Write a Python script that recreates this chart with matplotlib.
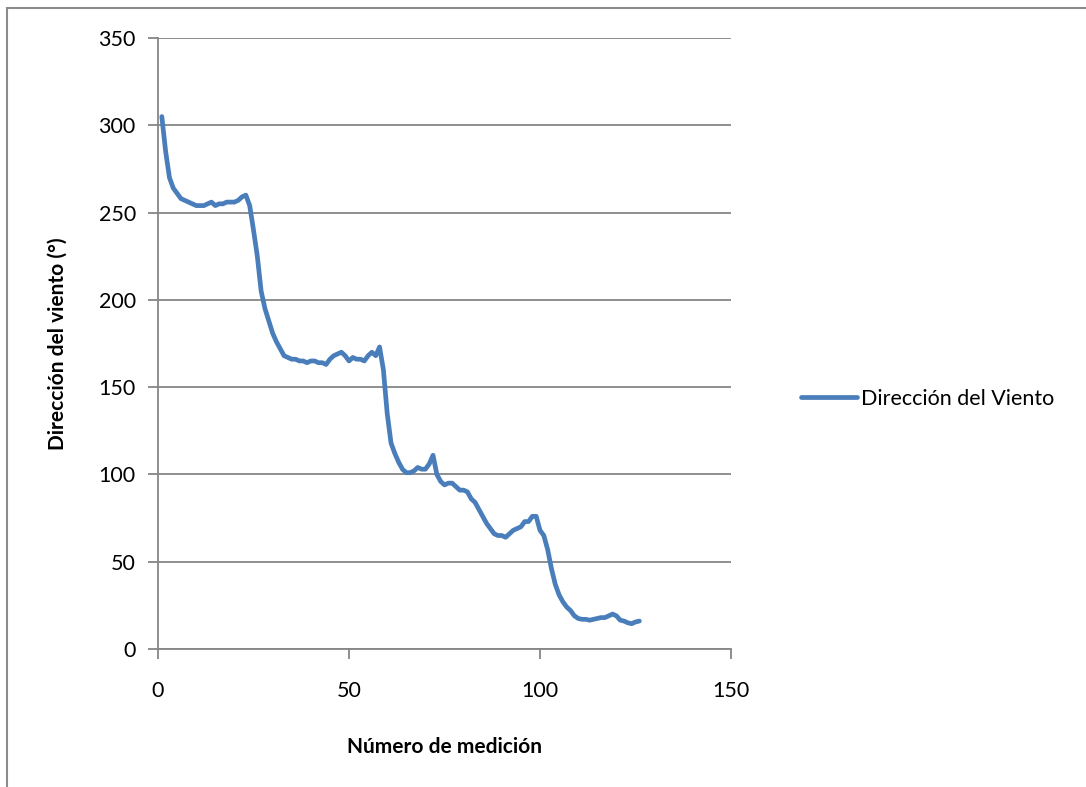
import matplotlib
matplotlib.use('Agg')
import matplotlib.pyplot as plt
from matplotlib.patches import Rectangle
import numpy as np

# Wind direction readings, one per measurement (1..126)
direccion = [
    305, 285, 270, 264, 261, 258, 257, 256, 255, 254,
    254, 254, 255, 256, 254, 255, 255, 256, 256, 256,
    257, 259, 260, 254, 240, 225, 205, 195, 188, 181,
    176, 172, 168, 167, 166, 166, 165, 165, 164, 165,
    165, 164, 164, 163, 166, 168, 169, 170, 168, 165,
    167, 166, 166, 165, 168, 170, 168, 173, 160, 135,
    118, 112, 107, 103, 101, 101, 102, 104, 103, 103,
    106, 111, 100, 96, 94, 95, 95, 93, 91, 91,
    90, 86, 84, 80, 76, 72, 69, 66, 65, 65,
    64, 66, 68, 69, 70, 73, 73, 76, 76, 68,
    65, 57, 46, 37, 31, 27, 24, 22, 19, 17.5,
    17, 17, 16.5, 17, 17.5, 18, 18, 19, 20, 19,
    16.5, 16, 15, 14.5, 15.5, 16,
]
medicion = np.arange(1, len(direccion) + 1)

xticks = [0, 50, 100, 150]
yticks = [0, 50, 100, 150, 200, 250, 300, 350]

W, H = 1086, 787
plt.rcParams['font.family'] = ['Lato', 'DejaVu Sans']
fig = plt.figure(figsize=(W / 100, H / 100), dpi=100)
fig.patch.set_facecolor('white')

# outer chart frame (clipped on the right and bottom)
fig.patches.append(Rectangle((7 / W, -0.05), 1.2, 1 - 8 / H + 0.05,
                             transform=fig.transFigure, fill=False,
                             edgecolor='#8c8c8c', linewidth=1.5))

ax = fig.add_axes([158 / W, 1 - 649 / H, (731 - 158) / W, (649 - 38) / H])
grid_col = '#868686'

ax.plot(medicion, direccion, color='#4a7ebb', linewidth=3.4,
        solid_joinstyle='round', solid_capstyle='round',
        label='Dirección del Viento')

ax.set_xlim(0, 150)
ax.set_ylim(0, 350)
ax.set_xticks(xticks)
ax.set_yticks(yticks)
ax.yaxis.grid(True, color=grid_col, linewidth=1.3)
ax.set_axisbelow(True)
for s in ['top', 'right']:
    ax.spines[s].set_visible(False)
for s in ['left', 'bottom']:
    ax.spines[s].set_color(grid_col)
    ax.spines[s].set_linewidth(1.3)
ax.tick_params(axis='both', colors=grid_col, length=7, width=1.3,
               labelcolor='black', labelsize=15.5, direction='out')
ax.tick_params(axis='x', pad=16)
ax.tick_params(axis='y', pad=9)

ax.set_xlabel('Número de medición', fontsize=15, fontweight='bold',
              labelpad=26)
ax.set_ylabel('Dirección del viento (°)', fontsize=15, fontweight='bold',
              labelpad=22)

leg = ax.legend(loc='center left', bbox_to_anchor=(782 / W, 1 - 399 / H),
                bbox_transform=fig.transFigure, frameon=False,
                fontsize=15.5, handlelength=2.6, handletextpad=0.15)

fig.savefig('out.png', dpi=100)
